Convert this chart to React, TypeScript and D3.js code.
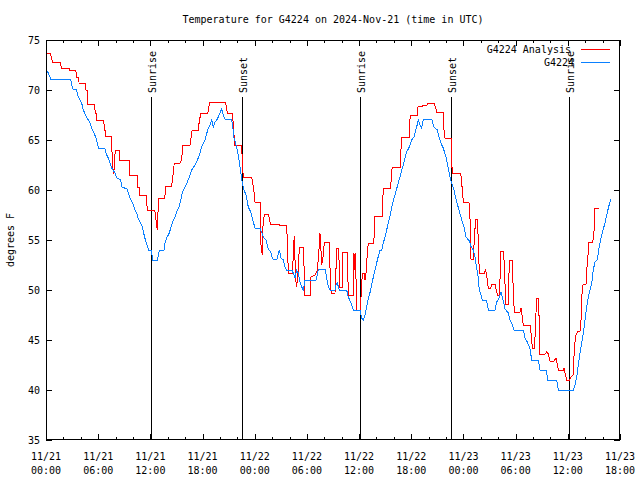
import React from "react";
import * as d3 from "d3";

// Hours since 2024-11-21 00:00 UTC
const xTickHours = [0, 6, 12, 18, 24, 30, 36, 42, 48, 54, 60, 66];
const xTickDates = ["11/21", "11/21", "11/21", "11/21", "11/22", "11/22", "11/22", "11/22", "11/23", "11/23", "11/23", "11/23"];
const xTickTimes = ["00:00", "06:00", "12:00", "18:00", "00:00", "06:00", "12:00", "18:00", "00:00", "06:00", "12:00", "18:00"];
const yTicks = [35, 40, 45, 50, 55, 60, 65, 70, 75];

const sunLabels = ["Sunrise", "Sunset", "Sunrise", "Sunset", "Sunrise"];
const sunHours = [12.07, 22.53, 36.1, 46.57, 60.14];

const analysis: [number, number][] = [
  [0.0, 73.7], [0.5, 73.7], [0.6, 73.3], [0.75, 72.8], [1.6, 72.8], [1.7, 72.5], [1.8, 72.2], [2.65, 72.2], [2.7, 72.0], [3.4, 72.0],
  [3.45, 71.8], [3.5, 71.3], [3.75, 71.3], [3.8, 70.7], [4.55, 70.7], [4.6, 70.0], [4.75, 70.0], [4.8, 68.6], [5.6, 68.6], [5.65, 67.7],
  [5.8, 67.7], [5.85, 67.0], [6.65, 67.0], [6.7, 66.0], [6.8, 66.0], [6.85, 65.4], [7.5, 65.4], [7.55, 64.7], [7.65, 62.4], [7.8, 61.6],
  [7.9, 63.5], [8.05, 64.0], [8.45, 64.0], [8.5, 63.0], [9.55, 63.0], [9.6, 61.5], [10.5, 61.5], [10.55, 60.3], [10.7, 60.3], [10.75, 59.5],
  [11.5, 59.5], [11.55, 59.1], [11.65, 58.0], [12.5, 58.0], [12.65, 57.0], [12.8, 56.0], [12.9, 58.3], [13.0, 59.2], [13.65, 59.2], [13.8, 60.4],
  [14.45, 60.4], [14.6, 61.5], [14.75, 62.7], [15.4, 62.7], [15.6, 63.0], [15.7, 64.4], [16.55, 64.5], [16.65, 65.0], [16.8, 66.0], [17.5, 66.0],
  [17.6, 66.7], [17.8, 67.7], [18.6, 67.7], [18.7, 68.2], [18.8, 68.7], [19.7, 68.8], [20.6, 68.8], [20.7, 68.5], [20.85, 67.7], [21.45, 67.7],
  [21.55, 66.3], [21.7, 64.5], [22.5, 64.5], [22.6, 62.2], [22.7, 61.3], [23.65, 61.3], [23.76, 60.7], [23.92, 59.8], [24.03, 58.8], [24.61, 58.8],
  [24.68, 58.0], [24.72, 54.5], [24.87, 53.5], [24.91, 56.0], [25.1, 57.6], [25.56, 57.6], [25.76, 56.8], [25.83, 56.6], [26.71, 56.6], [26.83, 56.5],
  [27.6, 56.5], [27.75, 55.3], [27.86, 51.7], [28.36, 51.7], [28.44, 54.0], [28.55, 55.4], [28.63, 53.0], [28.71, 51.0], [28.82, 50.3], [29.01, 52.0],
  [29.13, 54.3], [29.59, 54.3], [29.67, 52.3], [29.78, 49.5], [30.36, 49.5], [30.43, 51.3], [30.93, 51.5], [31.2, 52.0], [31.43, 54.5], [31.5, 55.7],
  [31.58, 54.7], [31.7, 52.5], [31.89, 53.5], [32.0, 54.8], [32.54, 54.8], [32.65, 52.3], [32.77, 50.0], [32.85, 49.7], [33.23, 49.7], [33.34, 52.0],
  [33.42, 54.2], [33.61, 54.2], [33.69, 53.0], [33.8, 50.3], [34.07, 50.3], [34.11, 53.8], [34.65, 53.8], [34.76, 49.5], [35.34, 49.5], [35.41, 53.7],
  [35.5, 52.0], [35.6, 53.7], [35.7, 48.0], [36.15, 48.0], [36.3, 50.7], [36.4, 51.7], [36.6, 51.7], [36.68, 51.0], [36.8, 51.7], [36.95, 53.7],
  [37.06, 54.7], [37.7, 54.7], [37.75, 56.3], [37.83, 57.4], [38.65, 57.4], [38.7, 58.7], [38.8, 60.2], [39.65, 60.2], [39.7, 61.5], [39.82, 62.3],
  [40.75, 62.3], [40.8, 63.8], [40.9, 65.3], [41.75, 65.3], [41.8, 66.8], [41.93, 67.5], [42.7, 67.5], [42.75, 68.3], [43.85, 68.5], [43.9, 68.7],
  [44.6, 68.7], [44.75, 68.4], [44.92, 67.8], [45.65, 67.8], [45.7, 66.5], [45.88, 65.2], [46.6, 65.2], [46.65, 62.5], [46.76, 61.7], [47.68, 61.7],
  [47.8, 60.7], [47.99, 58.8], [48.67, 58.7], [48.75, 57.3], [48.87, 53.1], [49.13, 53.1], [49.25, 55.1], [49.4, 57.1], [49.59, 57.1], [49.71, 55.0],
  [49.82, 51.7], [50.4, 51.7], [50.55, 52.0], [50.67, 51.5], [50.86, 50.2], [51.13, 50.2], [51.25, 50.6], [51.63, 50.6], [51.9, 49.5], [52.13, 49.5],
  [52.2, 51.0], [52.32, 53.9], [52.59, 53.9], [52.7, 52.5], [52.86, 48.6], [53.16, 48.6], [53.24, 51.8], [53.35, 53.0], [53.62, 53.0], [53.74, 49.5],
  [53.85, 47.8], [54.5, 47.8], [54.62, 48.2], [54.73, 47.5], [54.89, 46.4], [55.65, 46.5], [55.77, 45.7], [55.92, 44.2], [56.15, 44.2], [56.23, 45.3],
  [56.34, 47.7], [56.42, 49.2], [56.65, 49.2], [56.72, 46.0], [56.8, 43.6], [57.38, 43.6], [57.57, 43.8], [57.76, 43.6], [57.95, 42.9], [58.41, 42.9],
  [58.64, 43.2], [58.91, 42.0], [59.48, 42.0], [59.56, 42.2], [59.68, 41.7], [59.87, 41.0], [60.17, 41.0], [60.45, 41.4], [60.63, 41.5], [60.75, 44.3],
  [60.94, 45.5], [61.09, 45.8], [61.4, 45.9], [61.52, 47.0], [61.6, 49.2], [61.71, 50.5], [62.09, 50.6], [62.17, 51.8], [62.24, 52.8], [62.36, 53.8],
  [62.43, 54.8], [62.86, 54.8], [63.01, 55.8], [63.12, 58.2], [63.62, 58.2],
];

const observed: [number, number][] = [
  [0.0, 72.1], [0.27, 71.7], [0.54, 71.1], [2.84, 71.1], [2.95, 70.5], [3.07, 70.1], [3.53, 70.0], [3.64, 69.5], [3.91, 69.0], [4.1, 68.7],
  [4.29, 68.0], [4.6, 67.4], [4.79, 67.1], [5.06, 66.7], [5.25, 66.2], [5.52, 65.7], [5.75, 65.2], [5.9, 64.7], [6.02, 64.2], [6.78, 64.1],
  [6.98, 63.5], [7.17, 63.2], [7.36, 62.7], [7.55, 62.2], [7.93, 61.7], [8.13, 61.2], [8.59, 61.0], [8.7, 60.3], [9.35, 60.1], [9.47, 59.7],
  [9.66, 59.2], [9.97, 58.7], [10.23, 58.0], [10.43, 57.7], [10.61, 57.1], [11.0, 56.5], [11.2, 55.8], [11.4, 55.1], [11.6, 54.5], [11.8, 54.0],
  [12.1, 54.0], [12.27, 53.0], [12.8, 53.0], [12.92, 53.5], [13.03, 54.0], [13.57, 54.0], [13.68, 54.7], [13.87, 55.2], [14.18, 55.7], [14.34, 56.2],
  [14.56, 56.8], [14.83, 57.3], [15.02, 57.8], [15.29, 58.3], [15.49, 59.0], [15.67, 59.7], [15.98, 60.3], [16.25, 60.8], [16.56, 61.5], [16.75, 62.0],
  [17.13, 62.5], [17.51, 63.2], [17.71, 63.7], [17.9, 64.3], [18.28, 65.0], [18.59, 66.0], [18.86, 66.5], [19.05, 67.0], [19.24, 66.3], [19.43, 66.8],
  [19.7, 67.1], [20.01, 67.7], [20.2, 68.1], [20.39, 67.5], [20.58, 67.1], [21.35, 67.1], [21.47, 66.3], [21.62, 65.2], [21.93, 64.3], [22.19, 63.0],
  [22.39, 61.8], [22.5, 61.0], [22.77, 60.0], [23.0, 59.5], [23.26, 58.3], [23.54, 57.8], [23.77, 57.0], [24.03, 56.2], [24.61, 56.2], [24.99, 55.3],
  [25.3, 55.0], [25.56, 54.1], [25.83, 53.8], [26.06, 53.1], [26.52, 53.0], [26.83, 54.0], [27.02, 53.2], [27.29, 53.0], [27.48, 52.3], [27.67, 52.0],
  [28.25, 52.0], [28.44, 51.7], [28.63, 51.2], [28.82, 52.0], [29.01, 51.7], [29.2, 50.8], [29.4, 50.3], [29.59, 50.0], [29.78, 51.0], [31.05, 51.0],
  [31.2, 51.5], [31.31, 52.1], [32.08, 52.1], [32.28, 51.2], [32.46, 50.3], [32.65, 50.0], [33.23, 50.0], [33.34, 50.5], [33.5, 50.7], [33.72, 50.0],
  [34.57, 50.0], [34.76, 49.3], [35.03, 48.8], [35.34, 48.0], [36.1, 48.0], [36.3, 47.2], [36.49, 47.0], [36.68, 47.5], [36.87, 48.3], [37.06, 49.1],
  [37.33, 50.0], [37.56, 51.0], [37.83, 52.0], [38.1, 53.0], [38.4, 54.0], [38.6, 54.0], [38.79, 54.7], [39.09, 55.7], [39.36, 56.7], [39.63, 57.7],
  [39.86, 58.7], [40.13, 59.5], [40.44, 60.5], [40.7, 61.3], [41.01, 62.3], [41.28, 63.2], [41.47, 63.8], [41.77, 64.3], [42.05, 65.0], [42.31, 65.3],
  [42.62, 66.3], [42.81, 67.0], [43.0, 66.5], [43.2, 66.2], [43.39, 67.1], [44.35, 67.1], [44.61, 66.3], [45.0, 66.0], [45.22, 65.2], [45.5, 64.5],
  [45.68, 64.2], [45.99, 63.3], [46.26, 62.2], [46.45, 61.3], [46.64, 60.7], [46.91, 60.0], [47.22, 58.8], [47.49, 58.0], [47.8, 57.0], [48.06, 56.3],
  [48.29, 55.3], [48.56, 55.0], [48.67, 55.0], [48.83, 54.4], [49.13, 54.0], [49.33, 53.3], [49.52, 52.2], [49.71, 51.2], [49.82, 50.0], [50.02, 49.5],
  [50.17, 49.0], [50.67, 48.9], [50.86, 48.0], [51.63, 48.0], [51.82, 48.8], [52.09, 49.2], [52.32, 49.8], [52.51, 49.2], [52.78, 48.1], [53.16, 47.7],
  [53.35, 47.0], [53.55, 46.7], [53.81, 46.0], [54.89, 46.0], [55.08, 45.2], [55.35, 44.8], [55.65, 44.1], [55.85, 43.0], [56.61, 43.0], [56.8, 42.0],
  [57.57, 42.0], [57.65, 41.0], [58.72, 41.0], [58.91, 40.0], [60.63, 40.0], [60.83, 40.5], [61.02, 41.3], [61.21, 42.5], [61.4, 43.7], [61.6, 44.7],
  [61.78, 45.7], [61.98, 47.0], [62.17, 48.3], [62.36, 49.3], [62.55, 50.0], [62.75, 50.7], [62.93, 52.0], [63.12, 52.8], [63.39, 53.0], [63.51, 53.8],
  [63.7, 54.7], [63.9, 55.5], [64.27, 56.7], [64.66, 58.2], [64.93, 59.1],
];

const W = 640;
const H = 480;
const L = 46, R = 620, T = 40, B = 440;
const FONT = "'DejaVu Sans Mono', monospace";

export default function App() {
  const x = d3.scaleLinear().domain([0, 66]).range([L, R]);
  const y = d3.scaleLinear().domain([35, 75]).range([B, T]);
  const line = d3.line<[number, number]>().x((d) => x(d[0])).y((d) => y(d[1]));
  const minorHours = d3.range(0, 67, 2).filter((h) => h % 6 !== 0);

  return (
    <svg width={W} height={H} style={{ position: "absolute", left: 0, top: 0, background: "#fff" }} fontFamily={FONT} fontSize={10}>
      <rect x={0} y={0} width={W} height={H} fill="#fff" />
      <text x={333} y={23} textAnchor="middle" fill="#000">Temperature for G4224 on 2024-Nov-21 (time in UTC)</text>

      {/* y ticks */}
      {yTicks.map((v) => (
        <g key={"y" + v}>
          <line x1={L} x2={L + 6} y1={Math.round(y(v)) + 0.5} y2={Math.round(y(v)) + 0.5} stroke="#000" shapeRendering="crispEdges" />
          <line x1={R - 6} x2={R} y1={Math.round(y(v)) + 0.5} y2={Math.round(y(v)) + 0.5} stroke="#000" shapeRendering="crispEdges" />
          <text x={40} y={y(v) + 4} textAnchor="end" fill="#000">{v}</text>
        </g>
      ))}

      {/* x ticks */}
      {xTickHours.map((h, i) => (
        <g key={"x" + h}>
          <line x1={Math.round(x(h)) + 0.5} x2={Math.round(x(h)) + 0.5} y1={B} y2={B - 6} stroke="#000" shapeRendering="crispEdges" />
          <line x1={Math.round(x(h)) + 0.5} x2={Math.round(x(h)) + 0.5} y1={T} y2={T + 6} stroke="#000" shapeRendering="crispEdges" />
          <text x={x(h)} y={460} textAnchor="middle" fill="#000">{xTickDates[i]}</text>
          <text x={x(h)} y={474} textAnchor="middle" fill="#000">{xTickTimes[i]}</text>
        </g>
      ))}
      {minorHours.map((h) => (
        <g key={"m" + h}>
          <line x1={Math.round(x(h)) + 0.5} x2={Math.round(x(h)) + 0.5} y1={B} y2={B - 3} stroke="#000" shapeRendering="crispEdges" />
          <line x1={Math.round(x(h)) + 0.5} x2={Math.round(x(h)) + 0.5} y1={T} y2={T + 3} stroke="#000" shapeRendering="crispEdges" />
        </g>
      ))}

      <text transform={`translate(14,240) rotate(-90)`} textAnchor="middle" fill="#000">degrees F</text>

      {/* sunrise / sunset markers */}
      {sunHours.map((h, i) => (
        <g key={"s" + i}>
          <line x1={Math.round(x(h)) + 0.5} x2={Math.round(x(h)) + 0.5} y1={B} y2={97} stroke="#000" shapeRendering="crispEdges" />
          <text transform={`translate(${Math.round(x(h)) + 5},93) rotate(-90)`} textAnchor="start" fill="#000">{sunLabels[i]}</text>
        </g>
      ))}

      <path d={line(analysis) || ""} fill="none" stroke="#ff0000" strokeWidth={1} shapeRendering="crispEdges" />
      <path d={line(observed) || ""} fill="none" stroke="#0a80ff" strokeWidth={1} shapeRendering="crispEdges" />

      {/* border */}
      <rect x={L + 0.5} y={T + 0.5} width={R - L - 1} height={B - T - 1} fill="none" stroke="#000" shapeRendering="crispEdges" />

      {/* legend */}
      <text x={571} y={53} textAnchor="end" fill="#000">G4224 Analysis</text>
      <line x1={581} x2={610} y1={49.5} y2={49.5} stroke="#ff0000" shapeRendering="crispEdges" />
      <text x={574} y={66} textAnchor="end" fill="#000">G4224</text>
      <line x1={581} x2={610} y1={62.5} y2={62.5} stroke="#0a80ff" shapeRendering="crispEdges" />
    </svg>
  );
}
